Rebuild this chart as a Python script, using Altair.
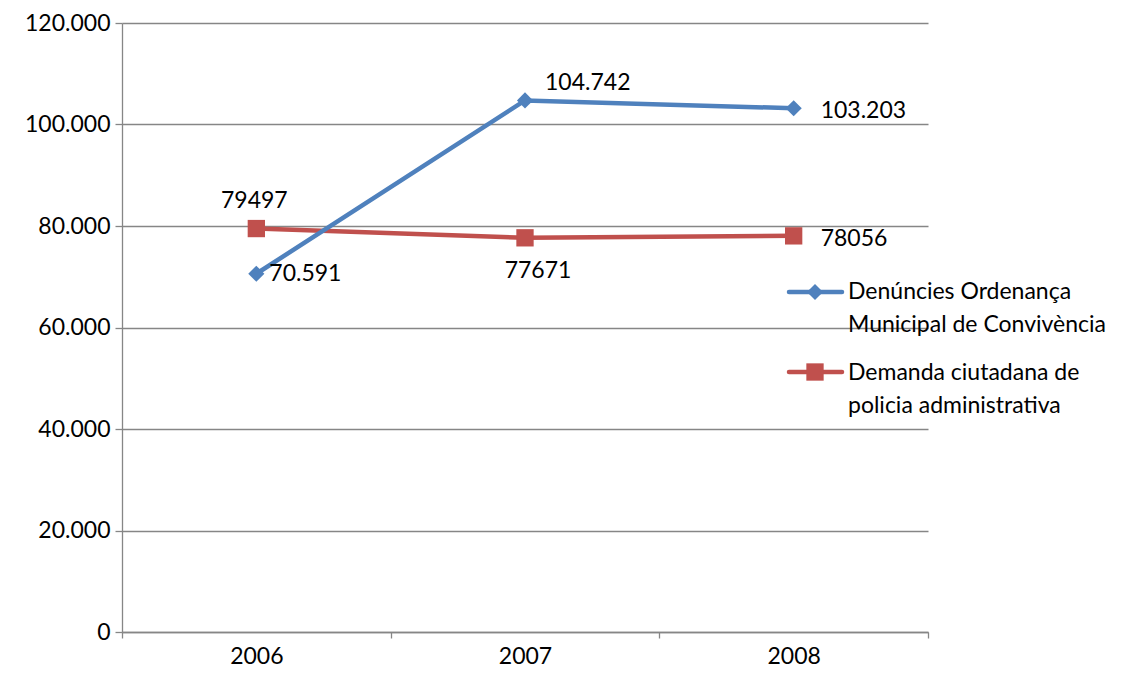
import altair as alt
import pandas as pd

years = ["2006", "2007", "2008"]
series_names = ["Denúncies Ordenança Municipal de Convivència",
                "Demanda ciutadana de policia administrativa"]
blue_values = [70591, 104742, 103203]
red_values = [79497, 77671, 78056]
blue_labels = ["70.591", "104.742", "103.203"]
red_labels = ["79497", "77671", "78056"]
legend_lines = [["Denúncies Ordenança", "Municipal de Convivència"],
                ["Demanda ciutadana de", "policia administrativa"]]

BLUE = "#4F81BD"
RED = "#C0504D"
FONT = "Lato"
FS = 23
GRID = "#868686"

rows = []
for i, y in enumerate(years):
    rows.append({"year": y, "series": series_names[0], "value": blue_values[i], "label": blue_labels[i], "idx": i})
    rows.append({"year": y, "series": series_names[1], "value": red_values[i], "label": red_labels[i], "idx": i})
df = pd.DataFrame(rows)

W, H = 806, 609

x_enc = alt.X("year:N", bandPosition=0.5,
              scale=alt.Scale(type="band", paddingInner=0, paddingOuter=0),
              axis=alt.Axis(title=None, labelAngle=0, tickBand="extent", tickSize=6,
                            tickColor=GRID, domainColor=GRID, tickWidth=1.3, domainWidth=1.3,
                            labelFont=FONT, labelFontSize=FS, labelColor="black",
                            labelPadding=7, grid=False))
y_enc = alt.Y("value:Q",
              scale=alt.Scale(domain=[0, 120000], nice=False),
              axis=alt.Axis(title=None, values=[0, 20000, 40000, 60000, 80000, 100000, 120000],
                            labelExpr="replace(format(datum.value, ','), ',', '.')",
                            tickSize=7, tickColor=GRID, domainColor=GRID, tickWidth=1.3, domainWidth=1.3,
                            gridColor=GRID, gridWidth=1.3, grid=True,
                            labelFont=FONT, labelFontSize=FS, labelColor="black", labelPadding=5))

base = alt.Chart(df)

def series_layers(name, color, shape, size):
    d = base.transform_filter(alt.datum.series == name)
    line = d.mark_line(color=color, strokeWidth=4.5).encode(x=x_enc, y=y_enc)
    pts = d.mark_point(color=color, fill=color, filled=True, shape=shape, size=size, opacity=1).encode(x=x_enc, y=y_enc)
    return [line, pts]

def label(name, idx, align, dx, dy):
    return base.transform_filter(
        (alt.datum.series == name) & (alt.datum.idx == idx)
    ).mark_text(font=FONT, fontSize=FS, color="black", align=align, baseline="middle", dx=dx, dy=dy).encode(
        x=x_enc, y=y_enc, text="label:N")

layers = []
layers += series_layers(series_names[1], RED, "square", 300)
layers += series_layers(series_names[0], BLUE, "diamond", 260)

layers += [
    label(series_names[0], 0, "left", 13, 0),
    label(series_names[0], 1, "left", 20, -17),
    label(series_names[0], 2, "left", 27, 3),
    label(series_names[1], 0, "center", -2, -28),
    label(series_names[1], 1, "center", 13, 33),
    label(series_names[1], 2, "left", 27, 3),
]

# manual legend
leg_specs = [
    (series_names[0], legend_lines[0], BLUE, "diamond", 260, 269, 276),
    (series_names[1], legend_lines[1], RED, "square", 300, 349, 357),
]
for name, lines, color, shape, size, ly, ty in leg_specs:
    ld = alt.Chart(pd.DataFrame({"series": [name]}))
    layers.append(ld.mark_rule(color=color, strokeWidth=4.5, strokeCap="round").encode(
        x=alt.value(667), x2=alt.value(720), y=alt.value(ly)))
    layers.append(ld.mark_point(color=color, fill=color, filled=True, shape=shape, size=size, opacity=1).encode(
        x=alt.value(693), y=alt.value(ly)))
    layers.append(ld.mark_text(font=FONT, fontSize=FS, color="black", align="left", baseline="alphabetic",
                               lineHeight=33).encode(
        x=alt.value(726), y=alt.value(ty), text=alt.value(lines)))

chart = alt.layer(*layers).properties(
    width=W, height=H,
    autosize=alt.AutoSizeParams(type="none"),
    padding={"left": 114, "top": 15, "right": 189, "bottom": 36},
).configure(background="white").configure_view(stroke=None)

chart.save("out.html", embed_options={"renderer": "svg", "actions": False})
